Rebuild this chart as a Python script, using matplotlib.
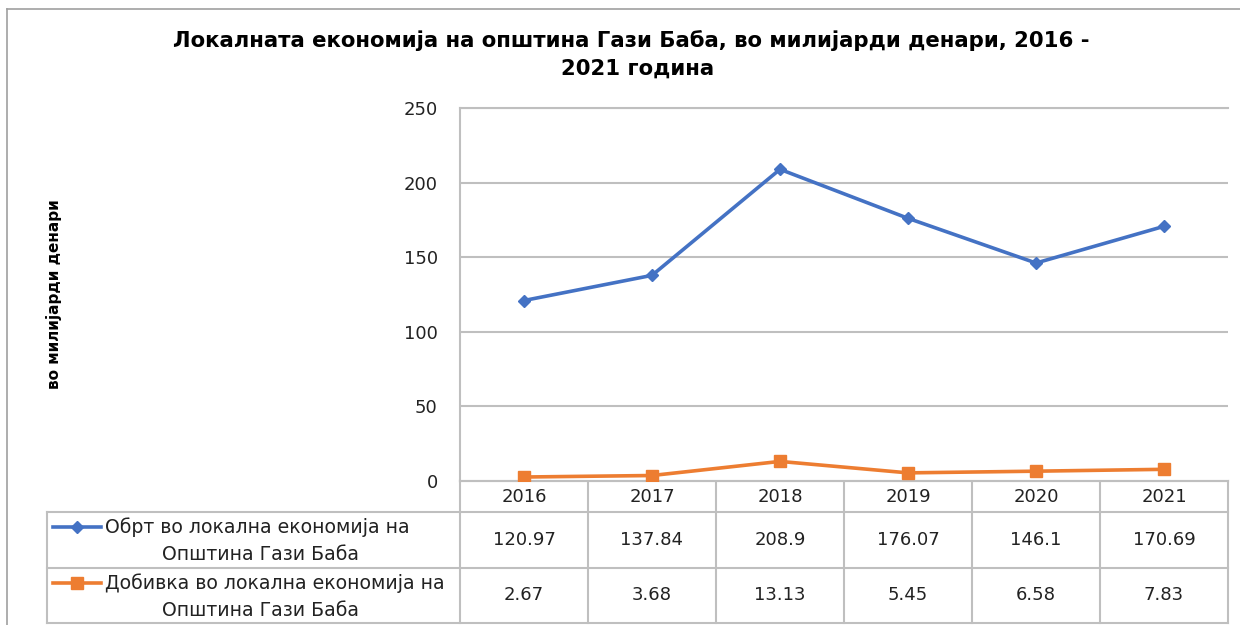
import matplotlib.pyplot as plt
import matplotlib.transforms as mtransforms
from matplotlib.lines import Line2D

years = ["2016", "2017", "2018", "2019", "2020", "2021"]
turnover = [120.97, 137.84, 208.9, 176.07, 146.1, 170.69]
profit = [2.67, 3.68, 13.13, 5.45, 6.58, 7.83]
yticks = [0, 50, 100, 150, 200, 250]

title_1 = "Локалната економија на општина Гази Баба, во милијарди денари, 2016 -"
title_2 = "2021 година"
ylabel = "во милијарди денари"
label_turnover = ["Обрт во локална економија на", "Општина Гази Баба"]
label_profit = ["Добивка во локална економија на", "Општина Гази Баба"]

blue = "#4472C4"
orange = "#ED7D31"
grid_c = "#BFBFBF"
txt_c = "#222222"
font = ["DejaVu Sans"]

W, H = 1240, 625
fig = plt.figure(figsize=(W / 100, H / 100), dpi=100)


def box(x0, y0, x1, y1):
    return [x0 / W, 1 - y1 / H, (x1 - x0) / W, (y1 - y0) / H]


# overlay in pixel coords for title, frame and table
ov = fig.add_axes([0, 0, 1, 1])
ov.set_xlim(0, W)
ov.set_ylim(H, 0)
ov.axis("off")

ax = fig.add_axes(box(460, 108, 1228, 481))
x = list(range(len(years)))
ax.plot(x, turnover, color=blue, lw=2.6, marker="D", ms=6.5, zorder=3)
ax.plot(x, profit, color=orange, lw=2.6, marker="s", ms=8, zorder=3)
ax.set_xlim(-0.5, len(years) - 0.5)
ax.set_ylim(0, 250)
ax.set_yticks(yticks)
ax.set_xticks([])
ax.tick_params(axis="y", length=0, pad=16, labelsize=13, labelcolor=txt_c)
for t in ax.get_yticklabels():
    t.set_family(font)
ax.grid(axis="y", color=grid_c, lw=1.5)
ax.set_axisbelow(True)
for s in ["left", "top", "bottom"]:
    ax.spines[s].set_color(grid_c)
    ax.spines[s].set_linewidth(1.5)
ax.spines["right"].set_visible(False)

# outer frame
ov.plot([7, 7], [625, 9], color="#A0A0A0", lw=1.2)
ov.plot([7, 1240], [9, 9], color="#A0A0A0", lw=1.2)

ov.text(631, 47, title_1, ha="center", va="baseline", fontsize=15.3,
        fontweight="bold", family=font)
ov.text(638, 75, title_2, ha="center", va="baseline", fontsize=15.3,
        fontweight="bold", family=font)
ov.text(54, 294, ylabel, ha="center", va="center", rotation=90, fontsize=11,
        fontweight="bold", family=font)

# data table: x in data units of the chart, y in pixels
tr = mtransforms.blended_transform_factory(ax.transData, ov.transData)
n = len(years)
top, r1, r2, bot = 481, 512, 568, 623
tab_left = 47
lkw = dict(color=grid_c, lw=1.5, clip_on=False)
for i in range(n + 1):
    ov.plot([i - 0.5, i - 0.5], [top, bot], transform=tr, **lkw)
ov.plot([tab_left, tab_left], [r1, bot], **lkw)
ov.plot([-0.5, n - 0.5], [top, top], transform=tr, **lkw)
for yy in [r1, r2, bot]:
    ov.plot([tab_left, 1228], [yy, yy], **lkw)

tkw = dict(ha="center", va="center", fontsize=13, family=font, color=txt_c)
for i, yr in enumerate(years):
    ov.text(i, (top + r1) / 2, yr, transform=tr, **tkw)
    ov.text(i, (r1 + r2) / 2, f"{turnover[i]:g}", transform=tr, **tkw)
    ov.text(i, (r2 + bot) / 2, f"{profit[i]:g}", transform=tr, **tkw)

for (lab, col, mk, ms), yl in zip(
        [(label_turnover, blue, "D", 6.5), (label_profit, orange, "s", 8)],
        [527, 583]):
    ov.add_line(Line2D([53, 101], [yl, yl], color=col, lw=2.6))
    ov.plot([77], [yl], marker=mk, color=col, ms=ms)
    ov.text(105, yl, lab[0], ha="left", va="center", fontsize=13.6,
            family=font, color=txt_c)
    ov.text(261, yl + 27, lab[1], ha="center", va="center", fontsize=13.6,
            family=font, color=txt_c)

fig.savefig("out.png", dpi=100)
